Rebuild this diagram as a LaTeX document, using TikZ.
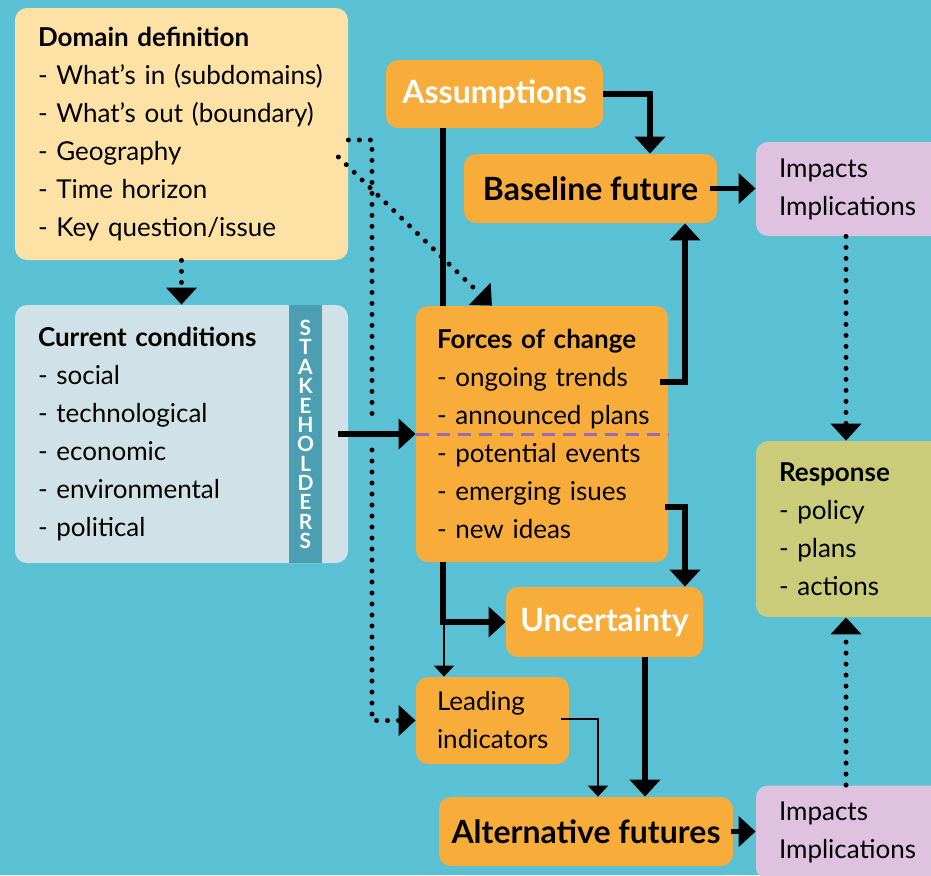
\documentclass[tikz,border=0pt]{standalone}
\usepackage{fontspec}
\setmainfont{Lato}
\usetikzlibrary{arrows.meta,positioning}

\definecolor{bgblue}{HTML}{5AC0D4}
\definecolor{domainyellow}{HTML}{FEE1A4}
\definecolor{currentgrey}{HTML}{D0E2E8}
\definecolor{stakeblue}{HTML}{4C9FB2}
\definecolor{forceorange}{HTML}{F8AD3A}
\definecolor{impactpink}{HTML}{DEC2DF}
\definecolor{responsegreen}{HTML}{CBCC7A}
\definecolor{dashpurple}{HTML}{9B6BB5}

\begin{document}
\begin{tikzpicture}
		[x=0.5pt,y=-0.5pt,
		box/.style ={rectangle, rounded corners=6pt, inner ysep=0pt, inner xsep=11.5pt, align=left, font=\fontsize{13}{19}\selectfont},
		domainbox/.style ={box, fill=domainyellow, text width=143.5pt, minimum height=126pt},
		currentbox/.style ={box, fill=currentgrey, text width=143.5pt, minimum height=129pt},
		stakebar/.style ={rectangle, fill=stakeblue, inner sep=0pt, minimum width=16.5pt, minimum height=129pt},
		stakeletter/.style ={text=white, font=\fontsize{10.5}{10.5}\bfseries, inner sep=0pt},
		forcesbox/.style ={box, fill=forceorange, text width=105pt, inner xsep=10.5pt, minimum height=128pt},
		responsebox/.style ={box, fill=responsegreen, text width=79pt, minimum height=88pt},
		impactsbox/.style ={box, fill=impactpink, text width=79pt, minimum height=47pt},
		leadingbox/.style ={box, fill=forceorange, text width=55.5pt, inner xsep=10.5pt, minimum height=43.5pt},
		titlebox/.style ={rectangle, rounded corners=6pt, fill=forceorange, inner sep=0pt, font=\fontsize{16}{18}\bfseries},
		thickline/.style ={line width=2.75pt},
		thickarrow/.style ={thickline, -{Triangle[width=15pt,length=8.5pt]}},
		thinarrow/.style ={line width=1pt, -{Triangle[width=10pt,length=5.5pt]}},
		dotline/.style ={line width=2.5pt, line cap=round, dash pattern=on 0pt off 5.5pt},
		dotarrow/.style ={dotline, -{Triangle[width=15pt,length=8.5pt]}},
		]

		\useasboundingbox (0,0) rectangle (931,875);
		\clip (0,0) rectangle (931,875);
		\fill[bgblue] (0,0) rectangle (931,875);

		% left column
		\node[domainbox] (Domain) at (181.5,134) {\textbf{Domain definition}\\- What’s in (subdomains)\\- What’s out (boundary)\\- Geography\\- Time horizon\\- Key question/issue};
		\node[currentbox] (Current) at (181.5,434) {\textbf{Current conditions}\\- social\\- technological\\- economic\\- environmental\\- political};
		\node[stakebar] (Stakeholders) at (305.5,434) {};
		\foreach \l [count=\i] in {S,T,A,K,E,H,O,L,D,E,R,S}
			\node[stakeletter] at (305.5,{328+(\i-1)*19.36}) {\l};

		% middle column
		\node[titlebox, text=white, minimum width=108.5pt, minimum height=34pt] (Assumptions) at (494.5,94) {Assumptions};
		\node[titlebox, minimum width=126.5pt, minimum height=34.5pt] (Baseline) at (590.5,188.5) {Baseline future};
		\node[forcesbox] (Forces) at (542,434) {\textbf{Forces of change}\\- ongoing trends\\\mbox{- announced plans}\\- potential events\\- emerging isues\\- new ideas};
		\node[titlebox, text=white, minimum width=98.5pt, minimum height=35pt] (Uncertainty) at (604.5,622) {Uncertainty};
		\node[leadingbox] (Leading) at (492.5,720.5) {Leading\\indicators};
		\node[titlebox, minimum width=147pt, minimum height=34.5pt] (Alternative) at (586,831.5) {Alternative futures};

		% right column
		\node[impactsbox] (ImpactsTop) at (858,189) {Impacts\\Implications};
		\node[responsebox] (Response) at (858,529) {\textbf{Response}\\- policy\\- plans\\- actions};
		\node[impactsbox] (ImpactsBot) at (858,832.5) {Impacts\\Implications};

		\draw[dashpurple, line width=1.5pt, dash pattern=on 6.5pt off 4pt] (Forces.west) -- (Forces.east);

		% connectors
		\draw[dotarrow] (Domain.south) -- (Current.north);
		\draw[dotarrow] ([xshift=-5pt,yshift=-11.5pt]Domain.east) -- ([xshift=-25pt]Forces.north);
		\draw[dotline] ([yshift=-3pt]Domain.east) -| (372,418);
		\draw[dotarrow] (372,450) |- (Leading.west);
		\draw[thickarrow] ([xshift=-5pt]Current.east) -- (Forces.west);

		\draw[thickarrow] (Assumptions.east) -| ([xshift=29.75pt]Baseline.north);
		\draw[thickline] ([xshift=-49.5pt]Forces.north |- Assumptions.south) -- ([xshift=-49.5pt]Forces.north);
		\draw[thickarrow] ([xshift=-4pt,yshift=26pt]Forces.east) -| ([xshift=47.25pt]Baseline.south);
		\draw[thickarrow] ([xshift=-1.5pt,yshift=-36.5pt]Forces.east) -| ([xshift=40.25pt]Uncertainty.north);
		\draw[thickarrow] ([xshift=-49.5pt]Forces.south) |- (Uncertainty.west);
		\draw[thinarrow] ([xshift=-24.25pt]Leading.north |- Uncertainty.west) -- ([xshift=-24.25pt]Leading.north);
		\draw[thinarrow] ([xshift=-4pt,yshift=1pt]Leading.east) -| ([xshift=6pt]Alternative.north);
		\draw[thickarrow] ([xshift=20.25pt]Uncertainty.south) -- ([xshift=20.25pt]Uncertainty.south |- Alternative.north);

		\draw[thickarrow] ([xshift=-3.5pt]Baseline.east) -- (ImpactsTop.west |- Baseline.east);
		\draw[thickarrow] ([xshift=-1pt]Alternative.east) -- (ImpactsBot.west |- Alternative.east);
		\draw[dotarrow] ([xshift=-6pt]ImpactsTop.south) -- ([xshift=-6pt]Response.north);
		\draw[dotarrow] ([xshift=-6pt]ImpactsBot.north) -- ([xshift=-6pt]Response.south);
	\end{tikzpicture}
\end{document}
